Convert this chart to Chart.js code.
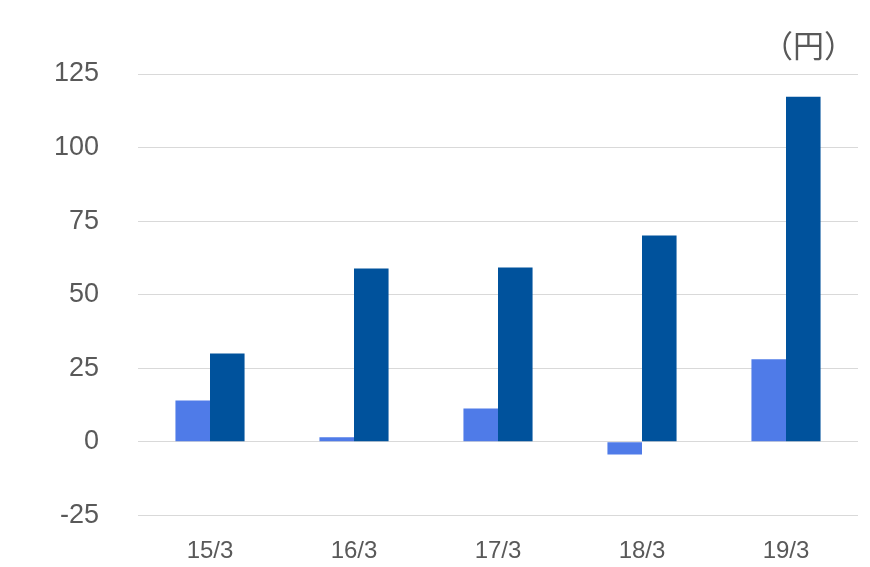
<!DOCTYPE html>
<html lang="ja">
<head>
<meta charset="utf-8">
<title>chart</title>
<script src="https://cdn.jsdelivr.net/npm/chart.js@4"></script>
<style>
  html, body { margin: 0; padding: 0; background: #fff; }
  #wrap { width: 870px; height: 567px; }
</style>
</head>
<body>
<div id="wrap"><canvas id="grafico" width="870" height="567"></canvas></div>
<script>
// データ
const categorias = ['15/3', '16/3', '17/3', '18/3', '19/3'];
const serieA = [14.0, 1.5, 11.3, -4.3, 28.0];
const serieB = [30.0, 58.9, 59.2, 70.1, 117.3];
const yTicks = [-25, 0, 25, 50, 75, 100, 125];
const unidade = '（円）';

const corTexto = '#595959';

// 単位ラベル (円)
const unidadePlugin = {
    id: 'unidade',
    afterDraw(chart) {
        const c = chart.ctx;
        c.save();
        c.font = '31px "Noto Sans CJK JP"';
        c.fillStyle = corTexto;
        c.textAlign = 'right';
        c.textBaseline = 'middle';
        c.fillText(unidade, chart.chartArea.right - 3, 45);
        c.restore();
    }
};

const ctx = document.getElementById('grafico');

new Chart(ctx, {
    type: 'bar',
    data: {
        labels: categorias,
        datasets: [
            { data: serieA, backgroundColor: '#4F7BE8', categoryPercentage: 0.48, barPercentage: 1.0 },
            { data: serieB, backgroundColor: '#00529C', categoryPercentage: 0.48, barPercentage: 1.0 }
        ]
    },
    options: {
        responsive: false,
        animation: false,
        layout: { padding: { top: 74, right: 12, left: 0, bottom: 0 } },
        plugins: {
            legend: { display: false },
            tooltip: { enabled: false }
        },
        scales: {
            x: {
                grid: { display: false },
                border: { display: false },
                ticks: {
                    color: corTexto,
                    font: { family: '"Liberation Sans", Arial, sans-serif', size: 24 },
                    padding: 13.7,
                    maxRotation: 0
                },
                afterFit: s => { s.height = 51.7; }
            },
            y: {
                min: -25,
                max: 125,
                afterBuildTicks: s => { s.ticks = yTicks.map(v => ({ value: v })); },
                grid: { color: '#d9d9d9', lineWidth: 1, drawTicks: false },
                border: { display: false },
                ticks: {
                    color: corTexto,
                    font: { family: '"Liberation Sans", Arial, sans-serif', size: 27 },
                    padding: 39
                },
                // o padding dos ticks não deve empurrar a área do gráfico
                afterFit: s => { s.width = 138; s.paddingTop = 16; s.paddingBottom = 16; }
            }
        }
    },
    plugins: [unidadePlugin]
});
</script>
</body>
</html>
